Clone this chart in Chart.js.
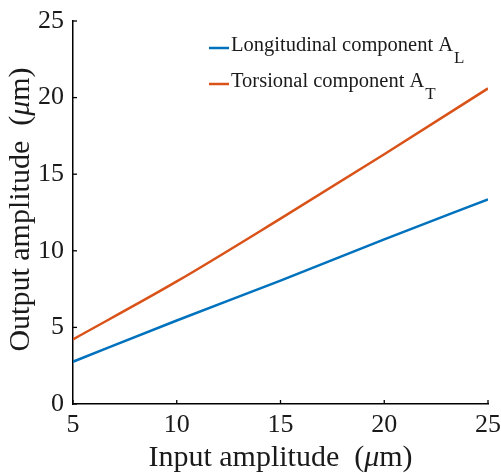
<!DOCTYPE html>
<html>
<head>
<meta charset="utf-8">
<script src="https://cdn.jsdelivr.net/npm/chart.js@4.4.0/dist/chart.umd.min.js"></script>
<style>
  html, body { margin: 0; padding: 0; background: #fff; }
  #wrap { width: 501px; height: 473px; }
</style>
</head>
<body>
<div id="wrap"><canvas id="ampChart"></canvas></div>
<script>
const inputAmp = [5, 10, 15, 20, 25];
const longitudinal = [2.76, 5.45, 8.05, 10.75, 13.36];
const torsional = [4.22, 8.0, 12.1, 16.3, 20.6];
const xTicks = [5, 10, 15, 20, 25];
const yTicks = [0, 5, 10, 15, 20, 25];
const seriesNames = ['Longitudinal component A', 'Torsional component A'];
const seriesSubs = ['L', 'T'];
const seriesColors = ['#0072BD', '#D95319'];

const serif = '"Liberation Serif", "Times New Roman", serif';

// draws a string made of [text, italic] pieces, centred on 0,0
function drawRuns(ctx, runs, size) {
    let total = 0;
    const widths = runs.map(r => {
        ctx.font = (r[1] ? 'italic ' : '') + size + 'px ' + serif;
        const w = ctx.measureText(r[0]).width;
        total += w;
        return w;
    });
    let x = -total / 2;
    runs.forEach((r, i) => {
        ctx.font = (r[1] ? 'italic ' : '') + size + 'px ' + serif;
        ctx.fillText(r[0], x, 0);
        x += widths[i];
    });
}

const extras = {
    id: 'extras',
    afterDraw(chart) {
        const ctx = chart.ctx;
        const xs = chart.scales.x, ys = chart.scales.y;
        const area = chart.chartArea;
        ctx.save();
        // inward ticks
        ctx.strokeStyle = '#000';
        ctx.lineWidth = 1.3;
        xTicks.forEach(v => {
            const px = xs.getPixelForValue(v);
            ctx.beginPath();
            ctx.moveTo(px, area.bottom);
            ctx.lineTo(px, area.bottom - 4);
            ctx.stroke();
        });
        yTicks.forEach(v => {
            const py = ys.getPixelForValue(v);
            ctx.beginPath();
            ctx.moveTo(area.left, py);
            ctx.lineTo(area.left + 4, py);
            ctx.stroke();
        });

        // axis titles
        ctx.fillStyle = '#1a1a1a';
        ctx.textBaseline = 'middle';
        ctx.textAlign = 'left';
        ctx.save();
        ctx.translate((area.left + area.right) / 2, 458);
        drawRuns(ctx, [['Input amplitude  (', false], ['\u03bc', true], ['m)', false]], 30);
        ctx.restore();
        ctx.save();
        ctx.translate(21, (area.top + area.bottom) / 2 - 3);
        ctx.rotate(-Math.PI / 2);
        drawRuns(ctx, [['Output amplitude  (', false], ['\u03bc', true], ['m)', false]], 30);
        ctx.restore();

        // legend
        const rows = [48, 84];
        rows.forEach((y, i) => {
            ctx.strokeStyle = seriesColors[i];
            ctx.lineWidth = 2.5;
            ctx.beginPath();
            ctx.moveTo(209, y);
            ctx.lineTo(229, y);
            ctx.stroke();
            ctx.fillStyle = '#1a1a1a';
            ctx.font = '20.5px ' + serif;
            ctx.textAlign = 'left';
            ctx.fillText(seriesNames[i], 231, y - 2);
            const w = ctx.measureText(seriesNames[i]).width;
            ctx.font = '17px ' + serif;
            ctx.fillText(seriesSubs[i], 231 + w + 1, y + 11);
        });
        ctx.restore();
    }
};

const ctx = document.getElementById('ampChart').getContext('2d');
new Chart(ctx, {
    type: 'line',
    data: {
        datasets: [
            {
                label: seriesNames[0] + seriesSubs[0],
                data: inputAmp.map((x, i) => ({ x: x, y: longitudinal[i] })),
                borderColor: seriesColors[0],
                borderWidth: 2.5,
                pointRadius: 0,
                cubicInterpolationMode: 'monotone'
            },
            {
                label: seriesNames[1] + seriesSubs[1],
                data: inputAmp.map((x, i) => ({ x: x, y: torsional[i] })),
                borderColor: seriesColors[1],
                borderWidth: 2.5,
                pointRadius: 0,
                cubicInterpolationMode: 'monotone'
            }
        ]
    },
    options: {
        responsive: true,
        maintainAspectRatio: false,
        animation: false,
        layout: { padding: { top: 21, right: 0, left: 0, bottom: 0 } },
        plugins: {
            legend: { display: false },
            tooltip: { enabled: false }
        },
        scales: {
            x: {
                type: 'linear',
                min: 5,
                max: 25,
                afterBuildTicks: s => { s.ticks = xTicks.map(v => ({ value: v })); },
                afterFit: s => { s.height = 69; s.paddingRight = 13; s.paddingLeft = 0; },
                grid: { display: false, drawTicks: false },
                border: { color: '#000', width: 1.5 },
                ticks: {
                    color: '#1a1a1a',
                    padding: 6,
                    maxRotation: 0,
                    font: { family: serif, size: 26 }
                }
            },
            y: {
                type: 'linear',
                min: 0,
                max: 25,
                afterBuildTicks: s => { s.ticks = yTicks.map(v => ({ value: v })); },
                afterFit: s => { s.width = 73; s.paddingTop = 0; s.paddingBottom = 0; },
                grid: { display: false, drawTicks: false },
                border: { color: '#000', width: 1.5 },
                ticks: {
                    color: '#1a1a1a',
                    padding: 9,
                    font: { family: serif, size: 26 }
                }
            }
        }
    },
    plugins: [extras]
});
</script>
</body>
</html>
